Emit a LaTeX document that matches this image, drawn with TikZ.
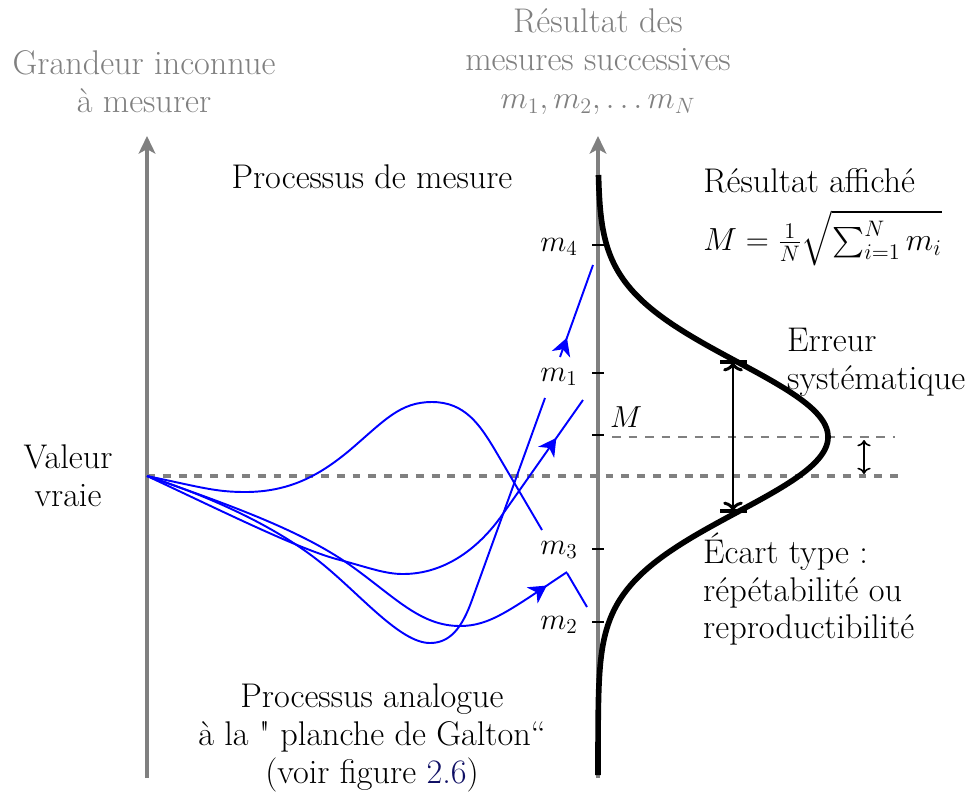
\RequirePackage{fix-cm}
\documentclass[tikz,border=0pt]{standalone}
\usepackage{amsmath}
\usepackage{fontspec}
\newfontfamily\straightq{Latin Modern Roman}
\usetikzlibrary{arrows.meta,decorations.markings}
\definecolor{axisgray}{RGB}{128,128,128}
\definecolor{labelgray}{RGB}{128,128,128}
\definecolor{linkblue}{RGB}{15,15,100}
\begin{document}
\begin{tikzpicture}[x=0.02cm, y=-0.02cm,
  font=\fontsize{19.5}{21.6}\selectfont,
  axisline/.style={draw=axisgray, line width=2.8pt, -{Stealth[length=10pt,width=9.5pt,inset=2.5pt]}},
  truedash/.style={draw=axisgray, line width=2.8pt, dash pattern=on 4.5pt off 4.5pt},
  meandash/.style={draw=axisgray, line width=0.9pt, dash pattern=on 5pt off 4.4pt},
  traj/.style={draw=blue, line width=1.1pt},
  midarrow/.style={postaction={decorate}, decoration={markings, mark=at position #1 with {\arrow{Stealth[length=10pt,width=11pt,inset=3pt]}}}},
  axtick/.style={draw=black, line width=1.2pt},
  bell/.style={draw=black, line width=3.2pt},
  bar/.style={draw=black, line width=2.2pt},
  graytext/.style={text=labelgray, align=center},
  mathlabel/.style={font=\fontsize{17.3}{20}\selectfont},
]
\useasboundingbox (0,0) rectangle (971,796);

% axes
\coordinate (lbot) at (147,778);
\coordinate (ltop) at (147,136);
\coordinate (rbot) at (598,778);
\coordinate (rtop) at (598,136);
\draw[axisline] (lbot) -- (ltop);
\draw[axisline] (rbot) -- (rtop);

% true value and mean lines
\coordinate (src) at (147,476);
\coordinate (trueend) at (905,476);
\coordinate (meanstart) at (612,437);
\coordinate (meanend) at (895,437);
\draw[truedash] (src) -- (trueend);
\draw[meandash] (meanstart) -- (meanend);

% ticks
\foreach \yy in {245,373,435,549,622} \draw[axtick] (592,\yy) -- (604,\yy);

% blue trajectories
\draw[traj] (src) .. controls (200,487) and (215,492) .. (245,492)
  .. controls (290,492) and (320,475) .. (350,450)
  .. controls (385,420) and (400,402) .. (432,402)
  .. controls (465,402) and (480,425) .. (495,450) -- (542,530);
\draw[traj] (567,573) -- (587,607);

\draw[traj] (src) .. controls (220,510) and (300,550) .. (340,560)
  .. controls (370,568) and (385,574) .. (403,574)
  .. controls (445,574) and (478,548) .. (500,518);
\draw[traj, midarrow=0.68] (500,518) -- (583,400);

\draw[traj] (src) .. controls (220,500) and (280,530) .. (320,562)
  .. controls (360,594) and (400,643) .. (430,643)
  .. controls (450,643) and (462,628) .. (472,600) -- (545,398);
\draw[traj, midarrow=0.21] (560,357) -- (593,265);

\draw[traj] (src) .. controls (230,505) and (300,530) .. (350,565)
  .. controls (395,597) and (420,626) .. (460,626);
\draw[traj, midarrow=0.8] (460,626) .. controls (490,626) and (510,610) .. (567,572);

% gaussian
\draw[bell] plot[domain=175:775, samples=200, smooth] ({598+230*exp(-0.5*((\x-437)/75)^2)}, \x);

% standard deviation bar
\coordinate (sigtop) at (733,362);
\coordinate (sigbot) at (733,511);
\draw[bar] (720,362) -- (747,362);
\draw[bar] (720,511) -- (747,511);
\draw[line width=1.7pt, <->, >={Computer Modern Rightarrow}] (sigtop) -- (sigbot);

% systematic error arrow
\coordinate (syst1) at (864,440);
\coordinate (syst2) at (864,474);
\draw[line width=0.9pt, <->, >={Computer Modern Rightarrow}] (syst1) -- (syst2);

% tick labels
\node[mathlabel] (lm4) at (559,247) {$m_4$};
\node[mathlabel] (lm1) at (559,377) {$m_1$};
\node[mathlabel] (lm3) at (559,550) {$m_3$};
\node[mathlabel] (lm2) at (559,625) {$m_2$};
\node[mathlabel] (lM) at (626,417) {$M$};

% texts
\node[graytext] (grandeur) at (144,82) {Grandeur inconnue\\à mesurer};
\node[graytext] (resultat) at (598,62) {Résultat des\\mesures successives\\{\fontsize{18}{21.6}\selectfont$m_1, m_2, \ldots m_N$}};
\node (procmes) at (372,177) {Processus de mesure};
\node[anchor=west, inner sep=0pt] (affiche) at (703,181) {Résultat affiché};
\node[anchor=west, inner sep=0pt, font=\fontsize{18.2}{21}\selectfont] (formule) at (703,238) {$M=\frac{1}{N}\sqrt{\sum_{i=1}^{N} m_i}$};
\node[anchor=west, align=left] (erreur) at (781,362) {Erreur\\systématique};
\node[align=center] (vraie) at (68,476) {Valeur\\vraie};
\node[anchor=west, align=left] (ecart) at (697,589) {Écart type :\\répétabilité ou\\reproductibilité};
\node[align=center] (galton) at (372,738) {Processus analogue\\à la {\straightq"} planche de Galton“\\(voir figure \textcolor{linkblue}{2.6})};
\end{tikzpicture}
\end{document}
